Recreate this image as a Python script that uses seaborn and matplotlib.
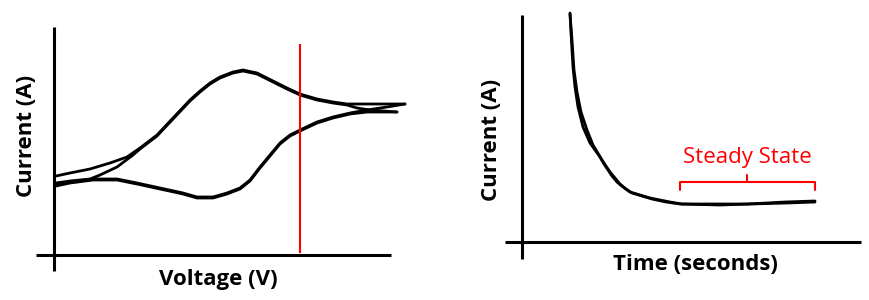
import numpy as np
import pandas as pd
import matplotlib
matplotlib.use("Agg")
import matplotlib.pyplot as plt
import seaborn as sns

# ---------------- data: cyclic voltammogram (arbitrary units, two cycles) ----------------
cv1_fwd_v = [2, 16, 36, 56, 73, 86, 103, 119, 136, 146, 156, 166, 179, 189, 203, 219, 233, 246, 263, 279, 293, 313, 333, 351]
cv1_fwd_i = [79, 82, 86, 92, 98, 107, 120, 137, 155, 164, 172, 178, 183, 185, 182, 174, 167, 161, 156, 153, 151, 151, 151, 151]
cv1_rev_v = [351, 333, 313, 296, 279, 263, 246, 236, 226, 216, 206, 196, 186, 173, 159, 143, 129, 106, 83, 63, 39, 16, 2]
cv1_rev_i = [151, 148, 145, 142, 138, 133, 125, 120, 112, 100, 88, 75, 67, 62, 58, 58, 62, 67, 72, 76, 76, 73, 70]
cv2_fwd_v = [2, 16, 36, 46, 63, 79, 86, 103, 119, 136, 146, 156, 166, 179, 189, 203, 219, 233, 246, 263, 279, 293, 303, 316, 343]
cv2_fwd_i = [72, 74, 76, 80, 88, 100, 106, 119, 136, 154, 163, 171, 177, 182, 184, 181, 173, 166, 160, 155, 152, 150, 147, 145, 143]
cv2_rev_v = [343, 326, 313, 296, 279, 263, 246, 236, 226, 216, 206, 196, 186, 173, 159, 143, 129, 106, 83, 63, 39, 16, 2]
cv2_rev_i = [143, 143, 143, 141, 137, 132, 124, 119, 111, 99, 87, 74, 66, 61, 57, 57, 61, 66, 71, 75, 75, 72, 69]
switch_voltage = 246

# ---------------- data: chronoamperometry (arbitrary units, two traces) ----------------
ca1_t = [48, 49, 51, 53, 56, 61, 68, 78, 82, 86, 90, 95, 101, 108, 118, 128, 138, 148, 160, 196, 226, 263, 293]
ca1_i = [229, 209, 175, 155, 135, 115, 99, 85, 78, 72, 66, 60, 55, 50, 47, 44, 42, 40, 38, 38, 38, 40, 41]
ca2_t = [48, 50, 52, 55, 59, 65, 71, 80, 84, 88, 93, 98, 104, 110, 120, 130, 144, 158, 198, 228, 265, 293]
ca2_i = [228, 202, 172, 150, 130, 112, 97, 82, 76, 70, 64, 58, 53, 49, 46, 43, 40, 38, 37, 38, 39, 40]
steady_start, steady_end = 158, 293
steady_label = "Steady State"

xlabel_left = "Voltage (V)"
xlabel_right = "Time (seconds)"
ylabel = "Current (A)"

# ---------------- figure ----------------
sns.set_style("white")
plt.rcParams["font.family"] = ["Open Sans", "DejaVu Sans"]

W, H = 870, 300
fig = plt.figure(figsize=(W / 100, H / 100), dpi=100)

def axes_px(x0, x1, y0, y1):
    return fig.add_axes([x0 / W, 1 - y1 / H, (x1 - x0) / W, (y1 - y0) / H])

axL = axes_px(30, 415, 5, 275)
axR = axes_px(495, 870, 5, 275)

lw_curve = 2.0
black = "black"
red = "#ff0000"

# CV
segments = [(cv1_fwd_v, cv1_fwd_i, "c1f"), (cv1_rev_v, cv1_rev_i, "c1r"),
            (cv2_fwd_v, cv2_fwd_i, "c2f"), (cv2_rev_v, cv2_rev_i, "c2r")]
cv = pd.concat([pd.DataFrame({"V": v, "I": i, "seg": s}) for v, i, s in segments])
sns.lineplot(data=cv, x="V", y="I", units="seg", estimator=None, sort=False,
             color=black, lw=lw_curve, ax=axL, solid_joinstyle="round", solid_capstyle="round")
axL.set_xlim(-24, 361)
axL.set_ylim(-20, 250)
axL.vlines(0, -16, 228, color=black, lw=2.2)
axL.hlines(0, -18, 337, color=black, lw=2.2)
axL.vlines(switch_voltage, 2, 211, color=red, lw=1.5)

# CA
ca = pd.concat([pd.DataFrame({"t": ca1_t, "I": ca1_i, "run": "a"}),
                pd.DataFrame({"t": ca2_t, "I": ca2_i, "run": "b"})])
sns.lineplot(data=ca, x="t", y="I", units="run", estimator=None, sort=False,
             color=black, lw=lw_curve, ax=axR, solid_joinstyle="round", solid_capstyle="round")
axR.set_xlim(-27, 348)
axR.set_ylim(-33, 237)
axR.vlines(0, -17, 227, color=black, lw=2.2)
axR.hlines(0, -17, 339, color=black, lw=2.2)

# Steady state bracket
mid = (steady_start + steady_end) / 2
yb, yend, ytop = 60, 52, 67
axR.plot([steady_start, steady_start, steady_end, steady_end], [yend, yb, yb, yend], color=red, lw=1.5)
axR.plot([mid, mid], [yb, ytop], color=red, lw=1.5)
axR.text(mid, 85, steady_label, color=red, fontsize=16, ha="center", va="center")

for ax in (axL, axR):
    for s in ax.spines.values():
        s.set_visible(False)
    ax.set_xticks([])
    ax.set_yticks([])
    ax.set_xlabel("")
    ax.set_ylabel("")

# Labels
lab_kw = dict(fontsize=16, fontweight="bold", ha="center", va="center", color=black)
fig.text(27 / W, 1 - 136 / H, ylabel, rotation=90, **lab_kw)
fig.text(218 / W, 1 - 279 / H, xlabel_left, **lab_kw)
fig.text(492 / W, 1 - 140 / H, ylabel, rotation=90, **lab_kw)
fig.text(695 / W, 1 - 265 / H, xlabel_right, **lab_kw)

fig.savefig("out.png", dpi=100)
